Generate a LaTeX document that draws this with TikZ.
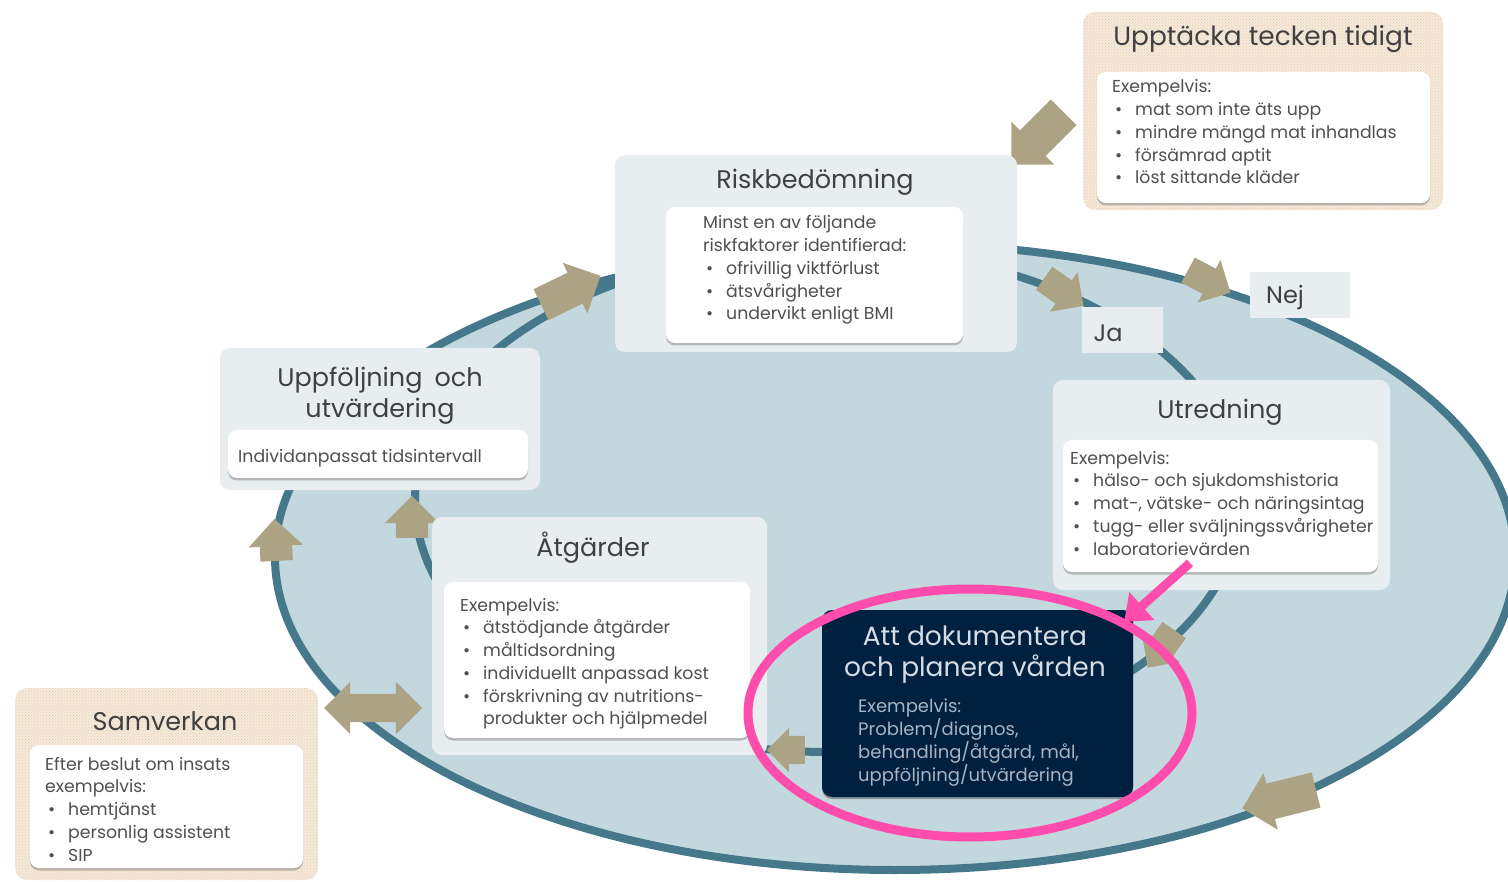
\documentclass[tikz,border=0pt]{standalone}
\usepackage{fontspec}
\setmainfont{Poppins}
\usetikzlibrary{shapes.arrows,shadows,patterns,arrows.meta}
\definecolor{ellfill}{HTML}{C3D8DE}
\definecolor{ellline}{HTML}{44788A}
\definecolor{boxfill}{HTML}{E8EEEF}
\definecolor{tanarrow}{HTML}{ABA384}
\definecolor{navy}{HTML}{00203F}
\definecolor{pinkc}{HTML}{FF4DAE}
\definecolor{tanbox}{HTML}{F5E9DA}
\definecolor{tandot}{HTML}{E4CCAE}
\definecolor{titlec}{HTML}{404040}
\definecolor{bodyc}{HTML}{505050}
\definecolor{darktitle}{HTML}{D5DCE4}
\definecolor{darkbody}{HTML}{A7B4C2}
\newcommand\bl{\makebox[23pt][l]{\hspace{3pt}•}}
\begin{document}
\begin{tikzpicture}[x=1pt,y=-1pt,
  lightbox/.style={fill=boxfill, rounded corners=10pt, inner sep=0pt},
  tanbg/.style={fill=tanbox, rounded corners=12pt, inner sep=0pt, postaction={pattern=crosshatch dots, pattern color=tandot}},
  whitebox/.style={fill=white, rounded corners=9pt, inner sep=0pt, drop shadow={shadow xshift=0pt, shadow yshift=-2.5pt, opacity=.45, fill=black!55}},
  darkbox/.style={fill=navy, rounded corners=10pt, inner sep=0pt, drop shadow={shadow xshift=0pt, shadow yshift=-2pt, opacity=.3, fill=black}},
  ttl/.style={text=titlec, font=\fontsize{25.5}{31}\selectfont, align=center, inner sep=0pt},
  body/.style={text=bodyc, font=\fontsize{17.3}{22.75}\selectfont, align=left, inner sep=0pt, anchor=base west},
  tarrow/.style={single arrow, fill=tanarrow, inner xsep=0pt},
  darrow/.style={double arrow, fill=tanarrow, inner xsep=0pt},
  pinkline/.style={draw=pinkc, line width=9pt}
]
\useasboundingbox (0,0) rectangle (1508,882);
\fill[white] (0,0) rectangle (1508,882);
% cycle ellipses
\fill[ellfill, draw=ellline, line width=8pt] (895,557) ellipse [x radius=620, y radius=313];
\draw[ellline, line width=8pt] (828,500) ellipse [x radius=413, y radius=252];
% block arrows
\node[tarrow, minimum height=66pt, inner ysep=17pt, single arrow head extend=11pt, rotate=26] (a1) at (563,294) {};
\node[tarrow, minimum height=48pt, inner ysep=14pt, single arrow head extend=10pt, rotate=-35] (a2) at (1058,288) {};
\node[tarrow, minimum height=48pt, inner ysep=14pt, single arrow head extend=10pt, rotate=-28] (a3) at (1203,278) {};
\node[tarrow, minimum height=74pt, inner ysep=18pt, single arrow head extend=12pt, rotate=-135] (a4) at (1044,132) {};
\node[tarrow, minimum height=46pt, inner ysep=14pt, single arrow head extend=9pt, rotate=-125] (a5) at (1165,643) {};
\node[tarrow, minimum height=38pt, inner ysep=14pt, single arrow head extend=8pt, rotate=180] (a6) at (793,750) {};
\node[tarrow, minimum height=42pt, inner ysep=16pt, single arrow head extend=11pt, rotate=90] (a7) at (412,525) {};
\node[tarrow, minimum height=42pt, inner ysep=16pt, single arrow head extend=11pt, rotate=93] (a8) at (276,548) {};
\node[darrow, minimum height=98pt, inner ysep=14pt, double arrow head extend=12pt] (a9) at (373,708) {};
\node[tarrow, minimum height=76pt, inner ysep=18pt, single arrow head extend=11pt, rotate=194] (a10) at (1288,797) {};
% Upptäcka tecken tidigt
\node[tanbg, minimum width=360pt, minimum height=198pt] (upp) at (1263,111) {};
\node[ttl, font=\fontsize{26.4}{30}\selectfont] (upptitle) at (1263,39) {Upptäcka tecken tidigt};
\node[whitebox, minimum width=333pt, minimum height=131pt] (uppin) at (1263.5,137.5) {};
\node[body] (upptext) at (1112,184) {Exempelvis:\\\bl mat som inte äts upp\\\bl mindre mängd mat inhandlas\\\bl försämrad aptit\\\bl löst sittande kläder};
% Riskbedömning
\node[lightbox, minimum width=402pt, minimum height=197pt] (risk) at (816,253.5) {};
\node[ttl] (risktitle) at (815,182) {Riskbedömning};
\node[whitebox, minimum width=297pt, minimum height=136pt] (riskin) at (814.5,275) {};
\node[body] (risktext) at (703,320) {Minst en av följande\\riskfaktorer identifierad:\\\bl ofrivillig viktförlust\\\bl ätsvårigheter\\\bl undervikt enligt BMI};
% Uppföljning och utvärdering
\node[lightbox, minimum width=320pt, minimum height=142pt] (uppf) at (380,419) {};
\node[ttl] (uppftitle) at (380,395.5) {Uppföljning\hspace{12pt}och\\utvärdering};
\node[whitebox, minimum width=300pt, minimum height=48pt] (uppfin) at (378,454) {};
\node[body] (uppftext) at (238,463) {Individanpassat tidsintervall};
% Utredning
\node[lightbox, minimum width=337pt, minimum height=210pt] (utr) at (1221.5,485) {};
\node[ttl] (utrtitle) at (1220,412) {Utredning};
\node[whitebox, minimum width=315pt, minimum height=132pt] (utrin) at (1220.5,506) {};
\node[body] (utrtext) at (1070,555) {Exempelvis:\\\bl hälso- och sjukdomshistoria\\\bl mat-, vätske- och näringsintag\\\bl tugg- eller sväljningssvårigheter\\\bl laboratorievärden};
% Åtgärder
\node[lightbox, minimum width=335pt, minimum height=238pt] (atg) at (599.5,636) {};
\node[ttl] (atgtitle) at (593,548) {Åtgärder};
\node[whitebox, minimum width=306pt, minimum height=156pt] (atgin) at (597,660) {};
\node[body] (atgtext) at (460,724.75) {Exempelvis:\\\bl ätstödjande åtgärder\\\bl måltidsordning\\\bl individuellt anpassad kost\\\bl förskrivning av nutritions-\\\hspace*{23pt}produkter och hjälpmedel};
% Att dokumentera
\node[darkbox, minimum width=311pt, minimum height=187pt] (dok) at (977.5,703.5) {};
\node[ttl, text=darktitle, font=\fontsize{26.5}{31}\selectfont] (doktitle) at (975,655) {Att dokumentera\\och planera vården};
\node[body, text=darkbody, font=\fontsize{18}{22.75}\selectfont] (doktext) at (858,781) {Exempelvis:\\Problem/diagnos,\\behandling/åtgärd, mål,\\uppföljning/utvärdering};
% Samverkan
\node[tanbg, minimum width=303pt, minimum height=192pt] (samv) at (166.5,784) {};
\node[ttl] (samvtitle) at (165,721) {Samverkan};
\node[whitebox, minimum width=273pt, minimum height=123pt] (samvin) at (166.5,806.5) {};
\node[body] (samvtext) at (45,861) {Efter beslut om insats\\exempelvis:\\\bl hemtjänst\\\bl personlig assistent\\\bl SIP};
% Ja / Nej
\node[lightbox, rounded corners=0pt, minimum width=81pt, minimum height=46pt] (jabox) at (1122.5,330) {};
\node[ttl, font=\fontsize{24}{28}\selectfont] (ja) at (1108,333) {Ja};
\node[lightbox, rounded corners=0pt, minimum width=100pt, minimum height=46pt] (nejbox) at (1300,295) {};
\node[ttl, font=\fontsize{24}{28}\selectfont] (nej) at (1285,297) {Nej};
% pink highlight
\draw[pinkline] (970,713) ellipse [x radius=222, y radius=124];
\coordinate (pinkstart) at (1190,563);
\coordinate (pinkend) at (1124,622);
\draw[pinkline, -{Triangle[length=24pt,width=36pt]}] (pinkstart) -- (pinkend);
\end{tikzpicture}
\end{document}
